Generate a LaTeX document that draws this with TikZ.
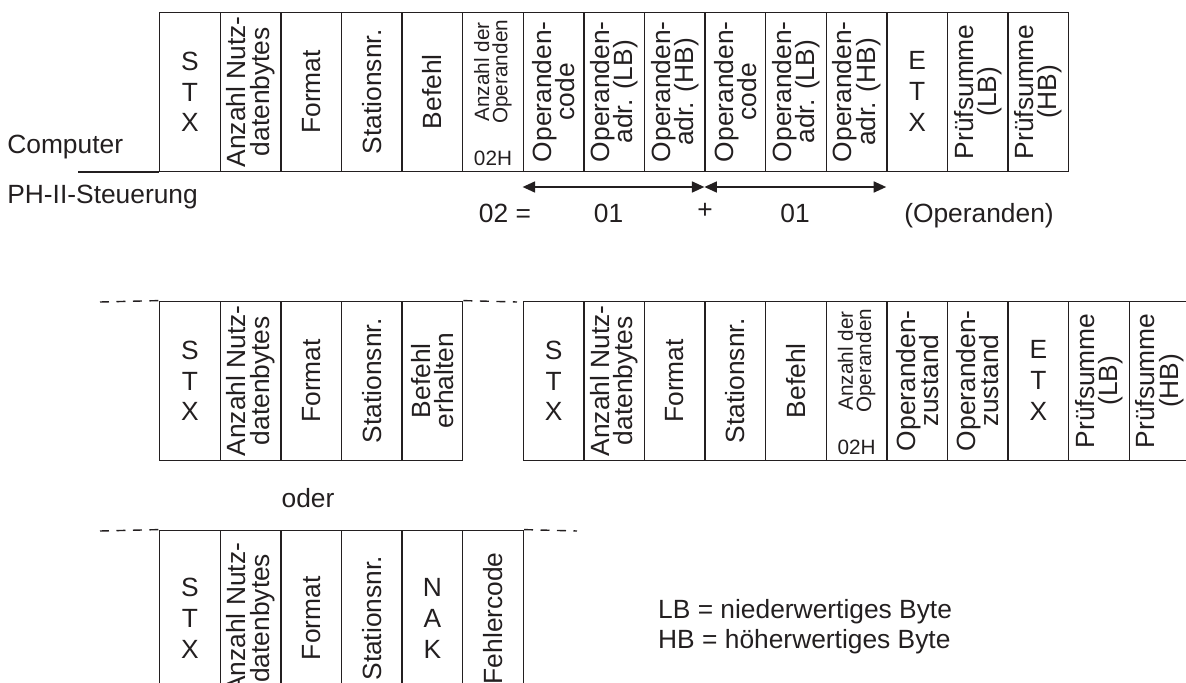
\documentclass[tikz,border=0pt]{standalone}
\usepackage{fontspec}
\setmainfont{Liberation Sans}
\usepackage{graphicx}
\usetikzlibrary{arrows.meta, positioning}

% one rotated line, two rotated lines, three stacked letters
\newcommand{\onerot}[1]{\rotatebox{90}{#1}}
\newcommand{\tworot}[2]{\rotatebox{90}{\vbox{\baselineskip=0.88em\lineskiplimit=-1em
  \halign{\hfil##\hfil\cr#1\cr#2\cr}}}}
\newcommand{\letterstack}[3]{\vbox{\baselineskip=17.6pt\lineskiplimit=-1em
  \halign{\hfil##\hfil\cr#1\cr#2\cr#3\cr}}}

\begin{document}
\begin{tikzpicture}[
    every node/.style={font=\fontsize{15}{17.6}\selectfont, text=c1},
    cell/.style={draw=c1, line width=0.8pt, minimum width=\cw cm,
                 minimum height=\ch cm, inner sep=0pt, anchor=south west},
    smalltxt/.style={font=\fontsize{11.8}{10}\selectfont, inner sep=0pt},
    dashline/.style={draw=c1, line width=0.8pt, dash pattern=on 0.18cm off 0.15cm},
    bothway/.style={{Triangle[length=0.25cm, width=0.22cm]}-{Triangle[length=0.25cm, width=0.22cm]},
                    line width=1pt, draw=c1},
]

\definecolor{c1}{HTML}{231F20}

\def\cw{1.212}   % cell width
\def\ch{3.18}    % cell height

\useasboundingbox (0,0) rectangle (23.72,13.64);
\clip (0,0) rectangle (23.72,13.64);

% ================================================================
% Computer -> PH-II-Steuerung, 15 cells from x = 3.18, bottom at 10.2
% ================================================================
\node[anchor=base west, inner sep=0pt] (comp) at (0.14, 10.58) {Computer};
\node[anchor=base west, inner sep=0pt] (plc) at (0.14, 9.58) {PH-II-Steuerung};

\foreach \txt [count=\i from 0] in {%
    {\letterstack{S}{T}{X}}, {\tworot{Anzahl Nutz-}{datenbytes}},
    {\onerot{Format}}, {\onerot{Stationsnr.}}, {\onerot{Befehl}}, {},
    {\tworot{Operanden-}{code}}, {\tworot{Operanden-}{adr. (LB)}},
    {\tworot{Operanden-}{adr. (HB)}}, {\tworot{Operanden-}{code}},
    {\tworot{Operanden-}{adr. (LB)}}, {\tworot{Operanden-}{adr. (HB)}},
    {\letterstack{E}{T}{X}}, {\tworot{Prüfsumme}{(LB)}},
    {\tworot{Prüfsumme}{(HB)}}} {
  \node[cell] (top\i) at (3.18+\i*\cw, 10.2) {\txt};
}
\node[smalltxt] (top5a) at ([yshift=0.4cm]top5.center) {\tworot{Anzahl der}{Operanden}};
\node[smalltxt] (top5b) at ([yshift=0.28cm]top5.south) {02H};

\coordinate (base) at (1.56, 10.2);
\draw[c1, line width=0.8pt] (base) -- (top0.south west);

% ---------------------------------------------------------------- operand count
\coordinate (a0) at ([yshift=-0.3cm]top6.south west);
\coordinate (a1) at ([yshift=-0.3cm]top9.south west);
\coordinate (a2) at ([yshift=-0.3cm]top12.south west);
\draw[bothway] (a0) -- (a1);
\draw[bothway] (a1) -- (a2);

\node[anchor=base] (sum) at (10.1, 9.2) {02 =};
\node[anchor=base] (one1) at (12.17, 9.2) {01};
\node (plus) at (14.1, 9.42) {+};
\node[anchor=base] (one2) at (15.9, 9.2) {01};
\node[anchor=base] (opnote) at (19.58, 9.2) {(Operanden)};

% ================================================================
% answer: acknowledge, then the data frame
% ================================================================
\foreach \txt [count=\i from 0] in {%
    {\letterstack{S}{T}{X}}, {\tworot{Anzahl Nutz-}{datenbytes}},
    {\onerot{Format}}, {\onerot{Stationsnr.}}, {\tworot{Befehl}{erhalten}}} {
  \node[cell] (mid\i) at (3.18+\i*\cw, 4.42) {\txt};
}

\foreach \txt [count=\i from 0] in {%
    {\letterstack{S}{T}{X}}, {\tworot{Anzahl Nutz-}{datenbytes}},
    {\onerot{Format}}, {\onerot{Stationsnr.}}, {\onerot{Befehl}}, {},
    {\tworot{Operanden-}{zustand}}, {\tworot{Operanden-}{zustand}},
    {\letterstack{E}{T}{X}}, {\tworot{Prüfsumme}{(LB)}},
    {\tworot{Prüfsumme}{(HB)}}} {
  \node[cell] (res\i) at (3.18+\i*\cw+6*\cw, 4.42) {\txt};
}
\node[smalltxt] (res5a) at ([yshift=0.4cm]res5.center) {\tworot{Anzahl der}{Operanden}};
\node[smalltxt] (res5b) at ([yshift=0.28cm]res5.south) {02H};

\coordinate (d0) at (2.0, 7.6);
\coordinate (d1) at (10.34, 7.6);
\draw[dashline] (d0) -- (mid0.north west);
\draw[dashline] (mid4.north east) -- (d1);

% ---------------------------------------------------------------- or: error
\node[anchor=base] (oder) at (6.16, 3.5) {oder};

\foreach \txt [count=\i from 0] in {%
    {\letterstack{S}{T}{X}}, {\tworot{Anzahl Nutz-}{datenbytes}},
    {\onerot{Format}}, {\onerot{Stationsnr.}}, {\letterstack{N}{A}{K}},
    {\onerot{Fehlercode}}} {
  \node[cell, minimum height=3.52cm] (nak\i) at (3.18+\i*\cw, -0.5) {\txt};
}

\coordinate (d2) at (2.0, 3.02);
\coordinate (d3) at (11.54, 3.02);
\draw[dashline] (d2) -- (nak0.north west);
\draw[dashline] (nak5.north east) -- (d3);

% ---------------------------------------------------------------- legend
\node[anchor=base west] (lb) at (13.04, 1.28) {LB = niederwertiges Byte};
\node[anchor=base west] (hb) at (13.04, 0.68) {HB = höherwertiges Byte};

\end{tikzpicture}
\end{document}
